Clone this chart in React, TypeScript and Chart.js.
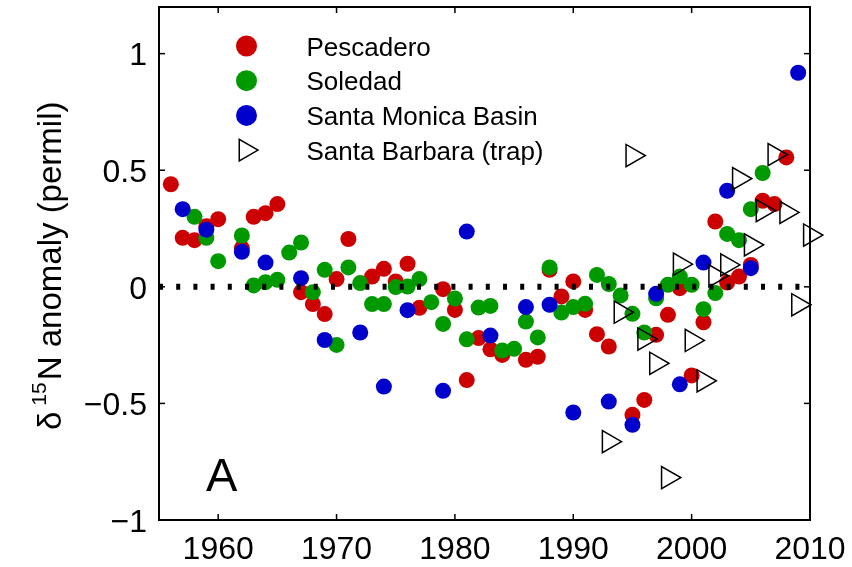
import React, { useEffect, useRef } from "react";
import { Chart, registerables } from "chart.js";
Chart.register(...registerables);

const FONT = "'Liberation Sans', Arial, Helvetica, sans-serif";

const seriesNames = ["Pescadero", "Soledad", "Santa Monica Basin", "Santa Barbara (trap)"];

const pescaderoYears = [1956, 1957, 1958, 1959, 1960, 1962, 1963, 1964, 1965, 1967, 1968, 1969, 1970, 1971, 1973, 1974, 1975, 1976, 1977, 1979, 1980, 1981, 1982, 1983, 1984, 1986, 1987, 1988, 1989, 1990, 1991, 1992, 1993, 1995, 1996, 1997, 1998, 1999, 2000, 2001, 2002, 2003, 2004, 2005, 2006, 2007, 2008];
const pescaderoValues = [0.44, 0.21, 0.2, 0.26, 0.29, 0.166, 0.3, 0.316, 0.355, -0.023, -0.074, -0.117, 0.033, 0.205, 0.044, 0.077, 0.023, 0.099, -0.09, -0.01, -0.099, -0.4, -0.22, -0.268, -0.292, -0.313, -0.3, 0.073, -0.041, 0.023, -0.099, -0.203, -0.256, -0.549, -0.485, -0.206, -0.12, -0.006, -0.38, -0.152, 0.28, 0.018, 0.044, 0.094, 0.369, 0.355, 0.555];

const soledadYears = [1958, 1959, 1960, 1962, 1963, 1964, 1965, 1966, 1967, 1968, 1969, 1970, 1971, 1972, 1973, 1974, 1975, 1976, 1977, 1978, 1979, 1980, 1981, 1982, 1983, 1984, 1985, 1986, 1987, 1988, 1989, 1990, 1991, 1992, 1993, 1994, 1995, 1996, 1997, 1998, 1999, 2000, 2001, 2002, 2003, 2004, 2005, 2006];
const soledadValues = [0.3, 0.21, 0.11, 0.22, 0.006, 0.02, 0.03, 0.147, 0.19, -0.023, 0.073, -0.249, 0.083, 0.016, -0.074, -0.074, -0.001, 0.001, 0.033, -0.066, -0.159, -0.05, -0.225, -0.089, -0.082, -0.273, -0.266, -0.149, -0.217, 0.083, -0.11, -0.087, -0.073, 0.051, 0.012, -0.037, -0.116, -0.196, -0.049, 0.009, 0.044, 0.009, -0.096, -0.027, 0.227, 0.2, 0.333, 0.488];

const smbYears = [1957, 1959, 1962, 1964, 1967, 1969, 1972, 1974, 1976, 1979, 1981, 1983, 1986, 1988, 1990, 1993, 1995, 1997, 1999, 2001, 2003, 2005, 2009];
const smbValues = [0.333, 0.245, 0.15, 0.104, 0.037, -0.228, -0.196, -0.428, -0.1, -0.446, 0.237, -0.209, -0.087, -0.077, -0.539, -0.492, -0.592, -0.03, -0.418, 0.104, 0.412, 0.08, 0.918];

const sbYears = [1993, 1994, 1995, 1996, 1997, 1998, 1999, 2000, 2001, 2002, 2003, 2004, 2005, 2006, 2007, 2008, 2009, 2010];
const sbValues = [-0.664, -0.109, 0.563, -0.224, -0.328, -0.818, 0.097, -0.23, -0.403, 0.047, 0.094, 0.464, 0.18, 0.327, 0.567, 0.319, -0.077, 0.222];

const xTickStep = 10;
const yTickStep = 0.5;
const panelLabel = "A";

const RED = "#cc0000";
const GREEN = "#009900";
const BLUE = "#0000cc";

const pts = (xs: number[], ys: number[]) => xs.map((x, i) => ({ x, y: ys[i] }));

const overlay = {
  id: "overlay",
  afterDraw(chart: any) {
    const { ctx, chartArea: a, scales } = chart;
    const xs = scales.x;
    const ys = scales.y;
    ctx.save();
    // dotted zero line
    const y0 = ys.getPixelForValue(0);
    ctx.strokeStyle = "#000";
    ctx.lineWidth = 6;
    ctx.setLineDash([4, 13.2]);
    ctx.beginPath();
    ctx.moveTo(a.left, y0);
    ctx.lineTo(a.right, y0);
    ctx.stroke();
    ctx.setLineDash([]);
    // frame
    ctx.lineWidth = 2;
    ctx.strokeRect(a.left, a.top, a.right - a.left, a.bottom - a.top);
    // inward ticks
    ctx.lineWidth = 1.5;
    const seg = (x1: number, y1: number, x2: number, y2: number) => {
      ctx.beginPath();
      ctx.moveTo(x1, y1);
      ctx.lineTo(x2, y2);
      ctx.stroke();
    };
    xs.ticks.forEach((t: any) => {
      const p = xs.getPixelForValue(t.value);
      seg(p, a.bottom, p, a.bottom - 6);
      seg(p, a.top, p, a.top + 6);
    });
    ys.ticks.forEach((t: any) => {
      const p = ys.getPixelForValue(t.value);
      seg(a.left, p, a.left + 6, p);
      seg(a.right, p, a.right - 6, p);
    });

    // legend
    const colors = [RED, GREEN, BLUE, null];
    const lx = 246.5;
    const ly0 = 46;
    const step = 34.7;
    ctx.font = `26px ${FONT}`;
    ctx.fillStyle = "#000";
    ctx.textAlign = "left";
    ctx.textBaseline = "alphabetic";
    seriesNames.forEach((name, i) => {
      const cy = ly0 + i * step;
      const c = colors[i];
      if (c) {
        ctx.fillStyle = c;
        ctx.beginPath();
        ctx.arc(lx, cy, 10.5, 0, Math.PI * 2);
        ctx.fill();
      } else {
        const r = 12.5;
        const cx = lx - 1;
        ctx.strokeStyle = "#000";
        ctx.lineWidth = 1.5;
        ctx.beginPath();
        ctx.moveTo(cx + r, cy);
        ctx.lineTo(cx - r / 2, cy - (r * Math.sqrt(3)) / 2);
        ctx.lineTo(cx - r / 2, cy + (r * Math.sqrt(3)) / 2);
        ctx.closePath();
        ctx.stroke();
      }
      ctx.fillStyle = "#000";
      ctx.fillText(name, 306.5, cy + 9.5);
    });

    // panel label
    ctx.font = `47px ${FONT}`;
    ctx.fillText(panelLabel, 206, 491);

    // y-axis title
    ctx.save();
    ctx.translate(61, 430);
    ctx.rotate(-Math.PI / 2);
    ctx.textAlign = "left";
    ctx.textBaseline = "alphabetic";
    ctx.font = `33px ${FONT}`;
    ctx.fillText("δ", 0, 0);
    let cx = ctx.measureText("δ").width + 6;
    ctx.font = `21px ${FONT}`;
    ctx.fillText("15", cx, -15);
    cx += ctx.measureText("15").width + 2;
    ctx.font = `33px ${FONT}`;
    ctx.fillText("N anomaly (permil)", cx, 0);
    ctx.restore();

    ctx.restore();
  },
};

export default function App() {
  const ref = useRef<HTMLCanvasElement | null>(null);
  useEffect(() => {
    if (!ref.current) return;
    const chart = new Chart(ref.current, {
      type: "scatter",
      data: {
        datasets: [
          {
            label: seriesNames[0],
            data: pts(pescaderoYears, pescaderoValues),
            backgroundColor: RED,
            borderWidth: 0,
            pointRadius: 8,
            order: 4,
          },
          {
            label: seriesNames[1],
            data: pts(soledadYears, soledadValues),
            backgroundColor: GREEN,
            borderWidth: 0,
            pointRadius: 8,
            order: 3,
          },
          {
            label: seriesNames[2],
            data: pts(smbYears, smbValues),
            backgroundColor: BLUE,
            borderWidth: 0,
            pointRadius: 8,
            order: 2,
          },
          {
            label: seriesNames[3],
            data: pts(sbYears, sbValues),
            backgroundColor: "rgba(0,0,0,0)",
            borderColor: "#000",
            borderWidth: 1.5,
            pointStyle: "triangle",
            rotation: 90,
            pointRadius: 12.8,
            clip: false,
            order: 1,
          },
        ],
      },
      options: {
        animation: false,
        responsive: false,
        maintainAspectRatio: false,
        devicePixelRatio: 1,
        layout: { autoPadding: false, padding: { left: 0, top: 7, right: 42, bottom: 0 } },
        plugins: { legend: { display: false }, tooltip: { enabled: false } },
        scales: {
          x: {
            type: "linear",
            min: 1955,
            max: 2010,
            grid: { display: false, drawTicks: false },
            border: { display: false },
            afterFit: (s: any) => {
              s.height = 47;
              s.paddingLeft = 0;
              s.paddingRight = 0;
              s.paddingTop = 0;
              s.paddingBottom = 0;
            },
            ticks: {
              stepSize: xTickStep,
              includeBounds: false,
              autoSkip: false,
              maxRotation: 0,
              padding: 11,
              color: "#000",
              font: { family: FONT, size: 32 },
              callback: (v: any) => String(v),
            },
          },
          y: {
            type: "linear",
            min: -1,
            max: 1.2,
            grid: { display: false, drawTicks: false },
            border: { display: false },
            afterFit: (s: any) => {
              s.width = 159;
              s.paddingLeft = 0;
              s.paddingRight = 0;
              s.paddingTop = 0;
              s.paddingBottom = 0;
            },
            ticks: {
              stepSize: yTickStep,
              includeBounds: false,
              autoSkip: false,
              padding: 12,
              labelOffset: 3,
              color: "#000",
              font: { family: FONT, size: 32 },
              callback: (v: any) => (v < 0 ? "\u2212" + String(Math.abs(v)) : String(v)),
            },
          },
        },
      },
      plugins: [overlay],
    });
    return () => chart.destroy();
  }, []);
  return (
    <div style={{ position: "absolute", left: 0, top: 0, width: 852, height: 567, background: "#fff" }}>
      <canvas ref={ref} width={852} height={567} style={{ display: "block" }} />
    </div>
  );
}
